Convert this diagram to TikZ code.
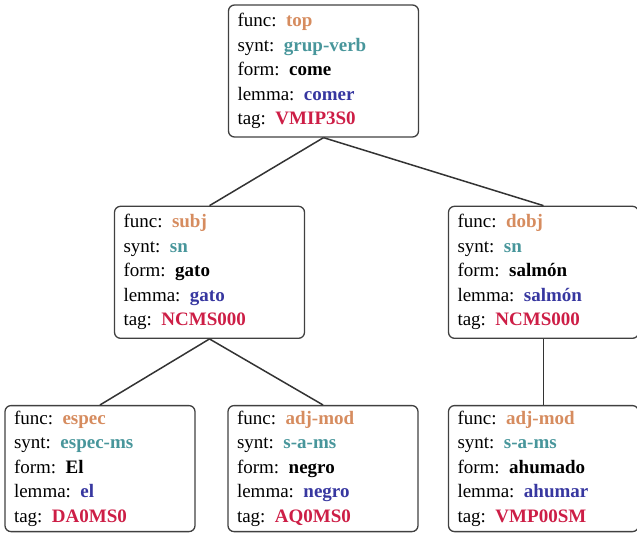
\documentclass[tikz,border=0pt]{standalone}
\usepackage{fontspec}
\setmainfont{Liberation Serif}
\usepackage{tikz}
\usetikzlibrary{positioning}
\definecolor{funccol}{RGB}{214,140,95}
\definecolor{syntcol}{RGB}{72,150,155}
\definecolor{lemmacol}{RGB}{55,55,160}
\definecolor{tagcol}{RGB}{205,30,70}
\newcommand{\feat}[5]{%
  func: \textcolor{funccol}{\textbf{#1}}\\
  synt: \textcolor{syntcol}{\textbf{#2}}\\
  form: \textbf{#3}\\
  lemma: \textcolor{lemmacol}{\textbf{#4}}\\
  tag: \textcolor{tagcol}{\textbf{#5}}}
\tikzset{
  featbox/.style={
  draw=black!75,
  line width=1.3pt,
  rounded corners=6pt,
  text width=172pt,
  align=left,
  minimum width=190pt,
  minimum height=132pt,
  inner xsep=9pt,
  inner ysep=4pt,
  font=\fontsize{19}{24.5}\selectfont,
  },
  leafbox/.style={featbox, minimum height=126pt},
  link/.style={draw=black!80, line width=1.5pt},
}
\begin{document}
\begin{tikzpicture}[x=1pt,y=1pt]
\useasboundingbox (0,0) rectangle (637,-538);

% root
\node[featbox](top) at (323.5,-71){\feat{top}{grup-verb}{come}{comer}{VMIP3S0}};

% second level
\node[featbox, below = 68pt of top, xshift=-114pt](subj){\feat{subj}{sn}{gato}{gato}{NCMS000}};
\node[featbox, below = 68pt of top, xshift=220pt](dobj){\feat{dobj}{sn}{salmón}{salmón}{NCMS000}};

% third level
\node[leafbox, below = 66pt of subj, xshift=-109.5pt](espec){\feat{espec}{espec-ms}{El}{el}{DA0MS0}};
\node[leafbox, below = 66pt of subj, xshift=113.5pt](negro){\feat{adj-mod}{s-a-ms}{negro}{negro}{AQ0MS0}};
\node[leafbox, below = 66pt of dobj](ahumado){\feat{adj-mod}{s-a-ms}{ahumado}{ahumar}{VMP00SM}};

% edges
\draw[link] (top.south) -- (subj.north);
\draw[link] (top.south) -- (dobj.north);
\draw[link] (subj.south) -- (espec.north);
\draw[link] (subj.south) -- (negro.north);
\draw[link] (dobj.south) -- (ahumado.north);

\end{tikzpicture}
\end{document}
